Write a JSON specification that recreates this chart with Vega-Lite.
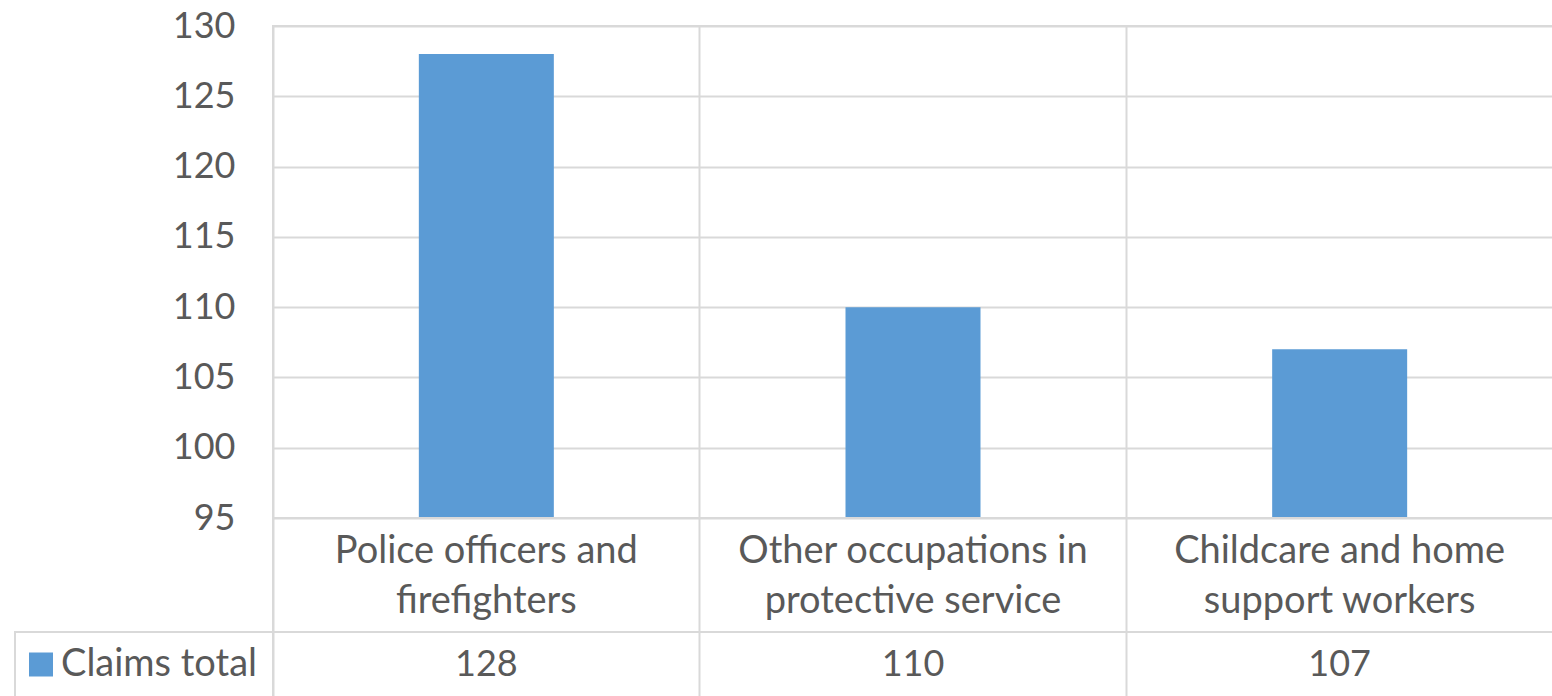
{
  "$schema": "https://vega.github.io/schema/vega-lite/v6.json",
  "background": "white",
  "padding": {"left": 13, "top": 7, "right": 0, "bottom": 0},
  "bounds": "flush",
  "spacing": 0,
  "config": {
    "font": "Lato",
    "view": {"stroke": "#d9d9d9", "strokeWidth": 2},
    "axis": {"gridColor": "#d9d9d9", "gridWidth": 2}
  },
  "datasets": {
    "claims": [
      {"occupation": "Police officers and firefighters", "label": "Police officers and\nfirefighters", "claims": 128},
      {"occupation": "Other occupations in protective service", "label": "Other occupations in\nprotective service", "claims": 110},
      {"occupation": "Childcare and home support workers", "label": "Childcare and home\nsupport workers", "claims": 107}
    ],
    "series": [
      {"series": "Claims total"}
    ]
  },
  "data": {"name": "claims"},
  "vconcat": [
    {
      "width": 1280,
      "height": 492,
      "mark": {"type": "bar", "color": "#5b9bd5", "size": 135},
      "encoding": {
        "x": {
          "field": "occupation", "type": "nominal", "sort": null,
          "scale": {"type": "band", "paddingInner": 0, "paddingOuter": 0},
          "axis": {"labels": false, "ticks": false, "domain": false, "title": null, "grid": true, "bandPosition": 0}
        },
        "y": {
          "field": "claims", "type": "quantitative",
          "scale": {"domain": [95, 130], "zero": false, "nice": false},
          "axis": {"values": [95, 100, 105, 110, 115, 120, 125, 130], "title": null, "domain": false, "ticks": false, "labelFontSize": 36, "labelColor": "#595959", "labelPadding": 38}
        },
        "y2": {"datum": 95}
      }
    },
    {
      "width": 1280,
      "height": 114,
      "mark": {"type": "text", "fontSize": 38, "color": "#595959", "lineHeight": 50, "baseline": "middle", "lineBreak": "\n", "dy": -23},
      "encoding": {
        "x": {
          "field": "occupation", "type": "nominal", "sort": null,
          "scale": {"type": "band", "paddingInner": 0, "paddingOuter": 0},
          "axis": {"labels": false, "ticks": false, "domain": false, "title": null, "grid": true, "bandPosition": 0}
        },
        "text": {"field": "label"}
      }
    },
    {
      "width": 1280,
      "height": 65,
      "layer": [
        {
          "mark": {"type": "text", "fontSize": 36, "color": "#595959", "baseline": "middle"},
          "encoding": {
            "x": {
              "field": "occupation", "type": "nominal", "sort": null,
              "scale": {"type": "band", "paddingInner": 0, "paddingOuter": 0},
              "axis": {"labels": false, "ticks": false, "domain": false, "title": null, "grid": true, "bandPosition": 0}
            },
            "text": {"field": "claims"}
          }
        },
        {
          "data": {"name": "series"},
          "layer": [
            {
              "mark": {"type": "rect", "fill": null, "stroke": "#d9d9d9", "strokeWidth": 2},
              "encoding": {
                "x": {"field": "series", "type": "nominal", "scale": {"type": "band", "range": [-258, 0], "paddingInner": 0, "paddingOuter": 0}, "axis": null}
              }
            },
            {
              "mark": {"type": "square", "color": "#5b9bd5", "opacity": 1, "size": 576, "xOffset": 26},
              "encoding": {
                "x": {"field": "series", "type": "nominal", "bandPosition": 0, "scale": {"type": "band", "range": [-258, 0], "paddingInner": 0, "paddingOuter": 0}, "axis": null}
              }
            },
            {
              "mark": {"type": "text", "fontSize": 38, "color": "#595959", "baseline": "middle", "align": "left", "xOffset": 46},
              "encoding": {
                "x": {"field": "series", "type": "nominal", "bandPosition": 0, "scale": {"type": "band", "range": [-258, 0], "paddingInner": 0, "paddingOuter": 0}, "axis": null},
                "text": {"field": "series"}
              }
            }
          ],
          "resolve": {"scale": {"x": "independent"}}
        }
      ],
      "resolve": {"scale": {"x": "independent"}}
    }
  ]
}
